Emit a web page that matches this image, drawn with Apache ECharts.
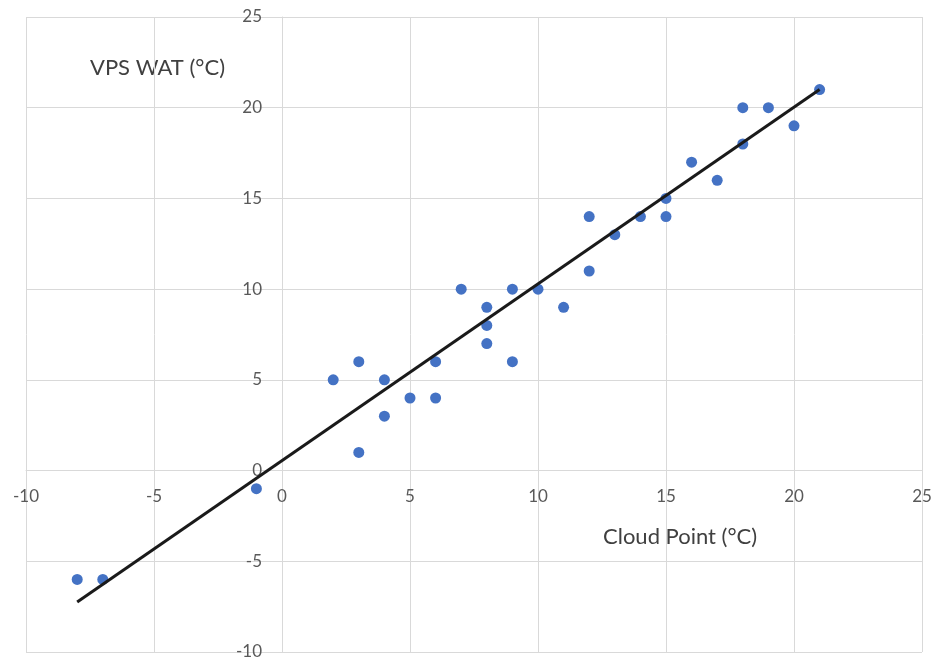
<!DOCTYPE html>
<html>
<head>
<meta charset="utf-8">
<script src="https://cdn.jsdelivr.net/npm/echarts@6/dist/echarts.min.js"></script>
<style>html,body{margin:0;padding:0;background:#fff;}#c{width:933px;height:661px;}</style>
</head>
<body>
<div id="c"></div>
<script>
var cloudPoint = [-8,-7,-1,2,3,3,4,4,5,6,6,7,8,8,8,9,9,10,11,12,12,13,14,15,15,16,17,18,18,19,20,21];
var vpsWat     = [-6,-6,-1,5,6,1,5,3,4,6,4,10,9,8,7,10,6,10,9,14,11,13,14,15,14,17,16,20,18,20,19,21];
// trendline endpoints
var trendX = [-8, 21];
var trendY = [-7.25, 21.0];
var xTicks = [-10,-5,0,5,10,15,20,25];
var yTicks = [-10,-5,0,5,10,15,20,25];

var pts = cloudPoint.map(function(x,i){return [x, vpsWat[i]];});
var trend = trendX.map(function(x,i){return [x, trendY[i]];});

var W = 933, H = 661, GL = 26, GR = 11, GT = 17, GB = 9;
var XMIN = -10, XMAX = 25, YMIN = -10, YMAX = 25;
// place axes where the other axis is zero (axes crossing at origin)
var yAxisOffset = -((0 - XMIN) / (XMAX - XMIN)) * (W - GL - GR);
var xAxisOffset = -((0 - YMIN) / (YMAX - YMIN)) * (H - GT - GB);

var font = 'Lato, "Open Sans", sans-serif';
var chart = echarts.init(document.getElementById('c'));
chart.setOption({
  animation:false,
  grid:{left:GL,right:GR,top:GT,bottom:GB,containLabel:false,outerBoundsMode:'none'},
  xAxis:{type:'value',min:XMIN,max:XMAX,interval:5,offset:xAxisOffset,
    axisLine:{show:true,onZero:false,lineStyle:{color:'#d9d9d9',width:1}},
    axisTick:{show:false},
    splitLine:{show:true,lineStyle:{color:'#d9d9d9',width:1}},
    axisLabel:{color:'#595959',fontSize:17,fontFamily:font,margin:17,showMinLabel:true,showMaxLabel:true,hideOverlap:false,
      formatter:function(v){return xTicks.indexOf(v)>=0?String(v):'';}}},
  yAxis:{type:'value',min:YMIN,max:YMAX,interval:5,offset:yAxisOffset,
    axisLine:{show:true,onZero:false,lineStyle:{color:'#d9d9d9',width:1}},
    axisTick:{show:false},
    splitLine:{show:true,lineStyle:{color:'#d9d9d9',width:1}},
    axisLabel:{color:'#595959',fontSize:17,fontFamily:font,margin:20,showMinLabel:true,showMaxLabel:true,hideOverlap:false,
      formatter:function(v){return yTicks.indexOf(v)>=0?String(v):'';}}},
  graphic:[
    {type:'text',left:90,top:57,style:{text:'VPS WAT (°C)',fill:'#404040',font:'22px '+font}},
    {type:'text',left:603,top:526,style:{text:'Cloud Point (°C)',fill:'#404040',font:'22px '+font}}
  ],
  series:[
    {type:'line',data:trend,showSymbol:false,symbol:'none',lineStyle:{color:'#1a1a1a',width:3},z:3},
    {type:'scatter',data:pts,symbolSize:11,itemStyle:{color:'#4472C4',opacity:1},z:2}
  ]
});
</script>
</body>
</html>
